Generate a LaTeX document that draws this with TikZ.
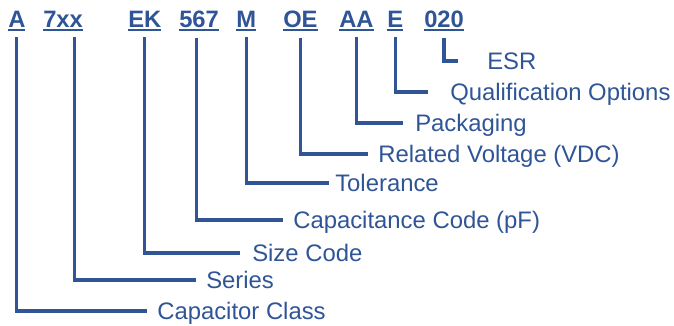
\documentclass[tikz,border=0pt]{standalone}
\usepackage{fontspec}
\setmainfont{Liberation Sans}
\definecolor{capblue}{RGB}{47,85,151}
% underlined part code
\newcommand{\codeul}[1]{\vtop{\hbox{#1}\kern1.5pt\hrule height1.5pt}}

\begin{document}
\begin{tikzpicture}[x=0.75pt, y=-0.75pt,
  code/.style={anchor=base west, inner sep=0pt, text=capblue,
    font=\fontsize{17.8}{20}\selectfont\bfseries},
  desc/.style={anchor=west, inner sep=0pt, text=capblue,
    font=\fontsize{17.9}{20}\selectfont, text height=12.8pt, text depth=0pt},
  lead/.style={draw=capblue, line width=2.4pt, shorten <=4.5pt, shorten >=7.5pt}]
  \useasboundingbox (0,0) rectangle (674,325);
  % part number codes
  \node[code] (cA)   at (8,27)   {\codeul{A}};
  \node[code] (cSer) at (43,27)  {\codeul{7xx}};
  \node[code] (cEK)  at (128,27) {\codeul{EK}};
  \node[code] (c567) at (179,27) {\codeul{567}};
  \node[code] (cM)   at (236,27) {\codeul{M}};
  \node[code] (cOE)  at (283,27) {\codeul{OE}};
  \node[code] (cAA)  at (339,27) {\codeul{AA}};
  \node[code] (cE)   at (387,27) {\codeul{E}};
  \node[code] (c020) at (424,27) {\codeul{020}};
  % descriptions
  \node[desc] (lESR)   at (487,61)  {ESR};
  \node[desc] (lQual)  at (450,92)  {Qualification Options};
  \node[desc] (lPack)  at (415,123) {Packaging};
  \node[desc] (lVolt)  at (378,154) {Related Voltage (VDC)};
  \node[desc] (lTol)   at (335,183) {Tolerance};
  \node[desc] (lCap)   at (293,220) {Capacitance Code (pF)};
  \node[desc] (lSize)  at (252,253) {Size Code};
  \node[desc] (lSer)   at (206,280) {Series};
  \node[desc] (lClass) at (157,311) {Capacitor Class};
  % leaders
  \draw[lead, shorten >=21.75pt] (c020.south) |- (lESR.west);
  \draw[lead, shorten >=16.5pt] (cE.south) |- (lQual.west);
  \draw[lead, shorten >=9pt] (cAA.south) |- (lPack.west);
  \draw[lead] (cOE.south) |- (lVolt.west);
  \draw[lead, shorten >=4.5pt] (cM.south) |- (lTol.west);
  \draw[lead] ([xshift=-2pt]c567.south) |- (lCap.west);
  \draw[lead, shorten >=9pt] (cEK.south) |- (lSize.west);
  \draw[lead] ([xshift=8.6pt]cSer.south) |- (lSer.west);
  \draw[lead] (cA.south) |- (lClass.west);
\end{tikzpicture}
\end{document}
